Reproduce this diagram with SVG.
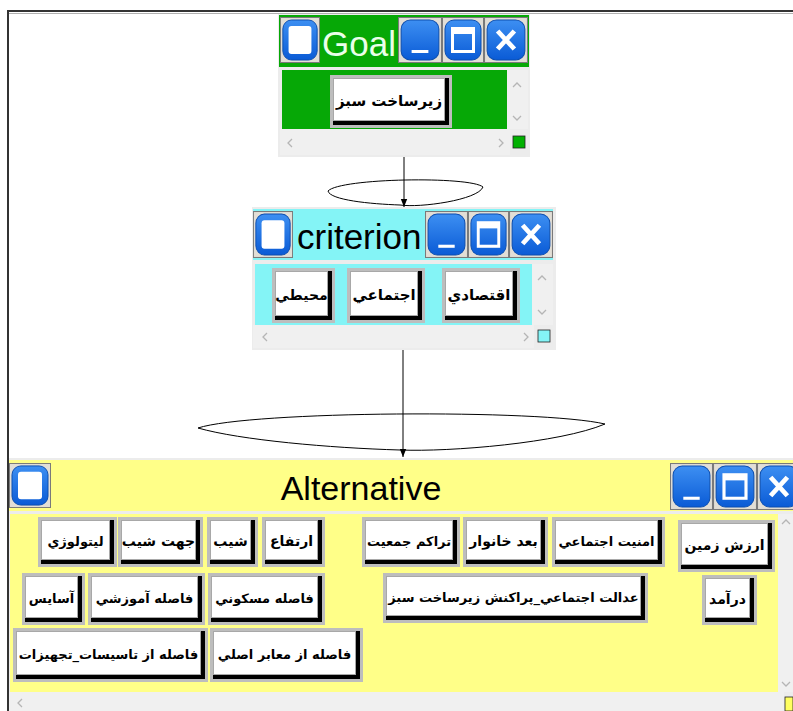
<svg xmlns="http://www.w3.org/2000/svg" xmlns:xlink="http://www.w3.org/1999/xlink" width="793" height="711" viewBox="0 0 793 711">
<style>
.f{fill:#bdbdbd}
.k{fill:#000}
.w{fill:#fff;stroke:#a8a8a8;stroke-width:1}
.t{font-family:"DejaVu Sans",sans-serif;font-weight:bold;font-size:13px;fill:#000;text-anchor:middle}
.lg{font-size:14px}
.sb{fill:#f0f0f0}
.ch{fill:none;stroke:#b5b5b5;stroke-width:1.3}
.body{fill:#ececec}
.ttl{font-family:"Liberation Sans",Arial,sans-serif;font-size:35px}
.cn{fill:none;stroke:#000;stroke-width:1}
</style>
<defs>
<linearGradient id="bg" x1="0" y1="0" x2="0" y2="1">
<stop offset="0" stop-color="#3d8ff2"/>
<stop offset="1" stop-color="#0a5bd6"/>
</linearGradient>
<marker id="ah" viewBox="0 0 10 10" refX="10" refY="5" markerWidth="8" markerHeight="8" orient="auto" markerUnits="userSpaceOnUse">
<path d="M0,1 L10,5 L0,9 z" fill="#000"/>
</marker>
<symbol id="bSq" viewBox="0 0 42 46" preserveAspectRatio="none">
<rect x="0.5" y="0.5" width="41" height="45" fill="#e2ded6" stroke="#7a7a7a"/>
<rect x="3" y="3" width="36" height="40" rx="9" fill="url(#bg)" stroke="#0d4fb0"/>
<rect x="9" y="9" width="24" height="28" rx="3" fill="#fff"/>
</symbol>
<symbol id="bMin" viewBox="0 0 42 46" preserveAspectRatio="none">
<rect x="0.5" y="0.5" width="41" height="45" fill="#e2ded6" stroke="#7a7a7a"/>
<rect x="3" y="3" width="36" height="40" rx="9" fill="url(#bg)" stroke="#0d4fb0"/>
<rect x="13" y="33" width="16" height="3" fill="#fff"/>
</symbol>
<symbol id="bMax" viewBox="0 0 42 46" preserveAspectRatio="none">
<rect x="0.5" y="0.5" width="41" height="45" fill="#e2ded6" stroke="#7a7a7a"/>
<rect x="3" y="3" width="36" height="40" rx="9" fill="url(#bg)" stroke="#0d4fb0"/>
<rect x="10.5" y="11.5" width="21" height="23" fill="none" stroke="#fff" stroke-width="3"/>
<rect x="10" y="11" width="22" height="6" fill="#fff"/>
</symbol>
<symbol id="bCl" viewBox="0 0 42 46" preserveAspectRatio="none">
<rect x="0.5" y="0.5" width="41" height="45" fill="#e2ded6" stroke="#7a7a7a"/>
<rect x="3" y="3" width="36" height="40" rx="9" fill="url(#bg)" stroke="#0d4fb0"/>
<path d="M13,14 L29,32 M29,14 L13,32" stroke="#fff" stroke-width="4.5"/>
</symbol>
</defs>

<rect width="793" height="711" fill="#fff"/>
<path d="M7,11 H793" stroke="#333" stroke-width="2"/>
<path d="M7,13.5 H793" stroke="#b0b0b0" stroke-width="1"/>
<path d="M8,11 V711" stroke="#333" stroke-width="2"/>

<g id="connectors">
<path class="cn" d="M328,191 C340,178 470,176 483,187 C478,200 420,208 400,205 C370,204 330,200 328,191 Z"/>
<path class="cn" d="M198,428 C250,411 540,409 605,424 C560,443 450,452 400,450 C330,448 240,440 198,428 Z"/>
<line class="cn" x1="404" y1="157" x2="404" y2="207" marker-end="url(#ah)"/>
<line class="cn" x1="403" y1="350" x2="403" y2="457" marker-end="url(#ah)"/>
</g>

<g id="goal">
<rect class="body" x="278" y="14" width="252" height="143"/>
<rect x="279" y="15" width="250" height="52" fill="#06a806"/>
<use xlink:href="#bSq" x="280" y="17" width="40" height="46"/>
<use xlink:href="#bMin" x="398" y="17" width="44" height="46"/>
<use xlink:href="#bMax" x="442" y="17" width="42" height="46"/>
<use xlink:href="#bCl" x="484" y="17" width="44" height="46"/>
<text class="ttl" x="322" y="56" fill="#eaffea">Goal</text>
<rect x="282" y="70" width="225" height="59" fill="#06a806"/>
<rect class="sb" x="507" y="70" width="21" height="59"/>
<polyline class="ch" points="513,87 517,83 521,87"/>
<polyline class="ch" points="513,116 517,120 521,116"/>
<rect class="sb" x="280" y="129" width="230" height="26"/>
<polyline class="ch" points="292,139 288,143 292,147"/>
<polyline class="ch" points="499,139 503,143 499,147"/>
<rect x="513" y="136" width="12" height="12" fill="#00b000" stroke="#222" stroke-width="0.8"/>
<g id="n-goal-1" transform="translate(330,75)">
<rect class="f" width="122" height="53"/><rect class="k" x="3" y="3" width="116" height="47"/><rect class="w" x="3.5" y="3.5" width="111" height="42"/>
<text class="t" x="59" y="31" style="font-size:15px">زيرساخت سبز</text>
</g>
</g>

<g id="criterion">
<rect class="body" x="252" y="207" width="304" height="143"/>
<rect x="253" y="209" width="300" height="51" fill="#84f4f6"/>
<use xlink:href="#bSq" x="253" y="211" width="40" height="47"/>
<use xlink:href="#bMin" x="425" y="211" width="43" height="47"/>
<use xlink:href="#bMax" x="468" y="211" width="41" height="47"/>
<use xlink:href="#bCl" x="509" y="211" width="44" height="47"/>
<text class="ttl" x="297" y="249" fill="#000">criterion</text>
<rect x="255" y="264" width="277" height="61" fill="#84f4f6"/>
<rect class="sb" x="532" y="264" width="21" height="61"/>
<polyline class="ch" points="538,280 542,276 546,280"/>
<polyline class="ch" points="538,310 542,314 546,310"/>
<rect class="sb" x="253" y="325" width="281" height="23"/>
<polyline class="ch" points="267,333 263,337 267,341"/>
<polyline class="ch" points="524,333 528,337 524,341"/>
<rect x="538" y="330" width="12" height="12" fill="#84f4f6" stroke="#222" stroke-width="0.8"/>
<g id="n-crit-1" transform="translate(272,268)">
<rect class="f" width="63" height="55"/><rect class="k" x="3" y="3" width="57" height="49"/><rect class="w" x="3.5" y="3.5" width="52" height="44"/>
<text class="t" x="29.5" y="32" style="font-size:14px">محيطي</text>
</g>
<g id="n-crit-2" transform="translate(347,268)">
<rect class="f" width="78" height="55"/><rect class="k" x="3" y="3" width="72" height="49"/><rect class="w" x="3.5" y="3.5" width="67" height="44"/>
<text class="t" x="37" y="32" style="font-size:15px">اجتماعي</text>
</g>
<g id="n-crit-3" transform="translate(442,268)">
<rect class="f" width="78" height="55"/><rect class="k" x="3" y="3" width="72" height="49"/><rect class="w" x="3.5" y="3.5" width="67" height="44"/>
<text class="t" x="37" y="32" style="font-size:15px">اقتصادي</text>
</g>
</g>

<g id="alternative">
<rect class="body" x="9" y="458" width="784" height="253"/>
<rect x="9" y="460" width="784" height="51" fill="#ffff88"/>
<use xlink:href="#bSq" x="9" y="463" width="42" height="45"/>
<use xlink:href="#bMin" x="670" y="463" width="43" height="47"/>
<use xlink:href="#bMax" x="713" y="463" width="44" height="47"/>
<use xlink:href="#bCl" x="757" y="463" width="44" height="47"/>
<text class="ttl" x="361" y="500" fill="#000" text-anchor="middle" style="font-size:34px">Alternative</text>
<rect x="10" y="514" width="768" height="178" fill="#ffff88"/>
<rect class="sb" x="778" y="514" width="15" height="178"/>
<polyline class="ch" points="782,524 786,520 790,524"/>
<polyline class="ch" points="782,682 786,686 790,682"/>
<rect class="sb" x="9" y="692" width="775" height="19"/>
<polyline class="ch" points="22,699 18,703 22,707"/>
<rect x="785" y="697" width="8" height="14" fill="#ffff60" stroke="#222" stroke-width="0.8"/>

<g id="n-alt-1" transform="translate(38,517)">
<rect class="f" width="79" height="50"/><rect class="k" x="3" y="3" width="73" height="44"/><rect class="w" x="3.5" y="3.5" width="68" height="39"/>
<text class="t" x="37.5" y="29">ليتولوژي</text>
</g>
<g id="n-alt-2" transform="translate(118,517)">
<rect class="f" width="85" height="50"/><rect class="k" x="3" y="3" width="79" height="44"/><rect class="w" x="3.5" y="3.5" width="74" height="39"/>
<text class="t lg" x="40.5" y="29">جهت شيب</text>
</g>
<g id="n-alt-3" transform="translate(207,517)">
<rect class="f" width="51" height="50"/><rect class="k" x="3" y="3" width="45" height="44"/><rect class="w" x="3.5" y="3.5" width="40" height="39"/>
<text class="t lg" x="23.5" y="29">شيب</text>
</g>
<g id="n-alt-4" transform="translate(262,517)">
<rect class="f" width="63" height="50"/><rect class="k" x="3" y="3" width="57" height="44"/><rect class="w" x="3.5" y="3.5" width="52" height="39"/>
<text class="t lg" x="29.5" y="29">ارتفاع</text>
</g>
<g id="n-alt-5" transform="translate(362,517)">
<rect class="f" width="98" height="50"/><rect class="k" x="3" y="3" width="92" height="44"/><rect class="w" x="3.5" y="3.5" width="87" height="39"/>
<text class="t" x="47" y="29">تراكم جمعيت</text>
</g>
<g id="n-alt-6" transform="translate(463,517)">
<rect class="f" width="85" height="50"/><rect class="k" x="3" y="3" width="79" height="44"/><rect class="w" x="3.5" y="3.5" width="74" height="39"/>
<text class="t lg" x="40.5" y="29">بعد خانوار</text>
</g>
<g id="n-alt-7" transform="translate(552,517)">
<rect class="f" width="113" height="50"/><rect class="k" x="3" y="3" width="107" height="44"/><rect class="w" x="3.5" y="3.5" width="102" height="39"/>
<text class="t" x="54.5" y="29">امنيت اجتماعي</text>
</g>
<g id="n-alt-8" transform="translate(678,520)">
<rect class="f" width="97" height="52"/><rect class="k" x="3" y="3" width="91" height="46"/><rect class="w" x="3.5" y="3.5" width="86" height="41"/>
<text class="t lg" x="46.5" y="30">ارزش زمين</text>
</g>
<g id="n-alt-9" transform="translate(22,573)">
<rect class="f" width="63" height="52"/><rect class="k" x="3" y="3" width="57" height="46"/><rect class="w" x="3.5" y="3.5" width="52" height="41"/>
<text class="t" x="29.5" y="30">آسايس</text>
</g>
<g id="n-alt-10" transform="translate(88,573)">
<rect class="f" width="117" height="52"/><rect class="k" x="3" y="3" width="111" height="46"/><rect class="w" x="3.5" y="3.5" width="106" height="41"/>
<text class="t" x="56.5" y="30">فاصله آموزشي</text>
</g>
<g id="n-alt-11" transform="translate(208,573)">
<rect class="f" width="117" height="52"/><rect class="k" x="3" y="3" width="111" height="46"/><rect class="w" x="3.5" y="3.5" width="106" height="41"/>
<text class="t" x="56.5" y="30">فاصله مسكوني</text>
</g>
<g id="n-alt-12" transform="translate(383,573)">
<rect class="f" width="265" height="50"/><rect class="k" x="3" y="3" width="259" height="44"/><rect class="w" x="3.5" y="3.5" width="254" height="39"/>
<text class="t" x="130.5" y="29">عدالت اجتماعي_پراكنش زيرساخت سبز</text>
</g>
<g id="n-alt-13" transform="translate(702,575)">
<rect class="f" width="55" height="50"/><rect class="k" x="3" y="3" width="49" height="44"/><rect class="w" x="3.5" y="3.5" width="44" height="39"/>
<text class="t lg" x="25.5" y="29">درآمد</text>
</g>
<g id="n-alt-14" transform="translate(13,628)">
<rect class="f" width="195" height="54"/><rect class="k" x="3" y="3" width="189" height="48"/><rect class="w" x="3.5" y="3.5" width="184" height="43"/>
<text class="t" x="95.5" y="31">فاصله از تاسيسات_تجهيزات</text>
</g>
<g id="n-alt-15" transform="translate(210,628)">
<rect class="f" width="153" height="54"/><rect class="k" x="3" y="3" width="147" height="48"/><rect class="w" x="3.5" y="3.5" width="142" height="43"/>
<text class="t" x="74.5" y="31">فاصله از معابر اصلي</text>
</g>
</g>
</svg>
